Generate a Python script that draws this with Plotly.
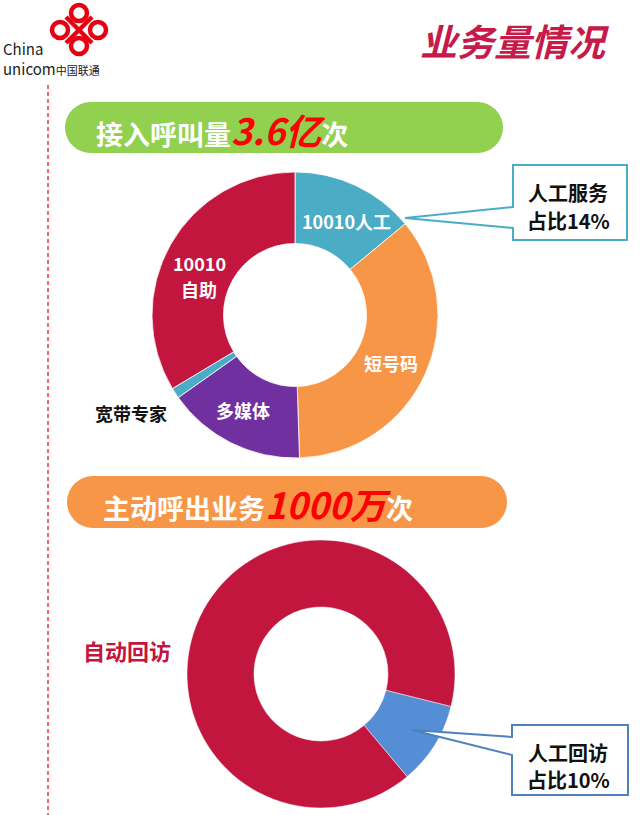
import plotly.graph_objects as go

# ---- data ----
in_labels = ["10010人工", "短号码", "多媒体", "宽带专家", "10010自助"]
in_values = [14.0, 35.5, 15.7, 1.2, 33.6]
in_colors = ["#4BACC6", "#F79646", "#7030A0", "#4BACC6", "#C2163F"]

out_labels = ["人工回访", "自动回访"]
out_values = [10, 90]
out_colors = ["#558ED5", "#C2163F"]

W, H = 640, 815
FONT = "Noto Sans CJK SC"

def py(y):  # pixel y -> paper y
    return 1 - y / H

fig = go.Figure()

# invisible cartesian trace so pixel-based axes exist for shapes
fig.add_trace(go.Scatter(x=[], y=[], showlegend=False, hoverinfo="skip"))

fig.add_trace(go.Pie(
    labels=in_labels, values=in_values, hole=0.5, sort=False,
    direction="clockwise", rotation=0,
    marker=dict(colors=in_colors, line=dict(color="white", width=0.8)),
    textinfo="none", hoverinfo="label+percent",
    domain=dict(x=[152 / W, 438 / W], y=[py(458), py(172)]),
    showlegend=False,
))

fig.add_trace(go.Pie(
    labels=out_labels, values=out_values, hole=0.5, sort=False,
    direction="clockwise", rotation=104,
    marker=dict(colors=out_colors, line=dict(color="white", width=0.5)),
    textinfo="none", hoverinfo="label+percent",
    domain=dict(x=[187 / W, 455 / W], y=[py(808), py(540)]),
    showlegend=False,
))

shapes = []
# dashed red vertical guide line
shapes.append(dict(type="line", xref="x", yref="y", x0=48, x1=48, y0=85, y1=815,
                   line=dict(color="#E8364A", width=1.5, dash="4px,3px")))

def pill(x0, x1, y0, y1, color):
    r = (y1 - y0) / 2
    return [dict(type="rect", xref="x", yref="y", x0=x0 + r, x1=x1 - r, y0=y0, y1=y1,
                 fillcolor=color, line=dict(width=0), layer="below"),
            dict(type="circle", xref="x", yref="y", x0=x0, x1=x0 + 2 * r, y0=y0, y1=y1,
                 fillcolor=color, line=dict(width=0), layer="below"),
            dict(type="circle", xref="x", yref="y", x0=x1 - 2 * r, x1=x1, y0=y0, y1=y1,
                 fillcolor=color, line=dict(width=0), layer="below")]

shapes += pill(65, 503, 102, 153, "#92D050")
shapes += pill(67, 507, 476, 528, "#F79646")

# callouts
shapes.append(dict(type="path", xref="x", yref="y",
                   path="M 513 165 L 627 165 L 627 240 L 513 240 L 513 228 L 405 218 L 513 207 Z",
                   fillcolor="white", line=dict(color="#4BACC6", width=2)))
shapes.append(dict(type="path", xref="x", yref="y",
                   path="M 512 725 L 628 725 L 628 795 L 512 795 L 512 755 L 412 730 L 512 737 Z",
                   fillcolor="white", line=dict(color="#4F81BD", width=2)))

# logo knot (approximation)
LR = "#E60012"
for cx, cy in [(79, 13), (60, 30), (98, 30), (79, 46)]:
    shapes.append(dict(type="circle", xref="x", yref="y", x0=cx - 8, x1=cx + 8, y0=cy - 8, y1=cy + 8,
                       line=dict(color=LR, width=4.5)))
shapes.append(dict(type="line", xref="x", yref="y", x0=66, y0=17, x1=92, y1=43, line=dict(color=LR, width=4.5)))
shapes.append(dict(type="line", xref="x", yref="y", x0=92, y0=17, x1=66, y1=43, line=dict(color=LR, width=4.5)))

ann = []
def A(x, y, text, size, color="white", xanchor="center", **kw):
    ann.append(dict(x=x, y=y, xref="x", yref="y", text=text, showarrow=False,
                    font=dict(family=FONT, size=size, color=color), xanchor=xanchor,
                    yanchor="middle", **kw))

# logo text
A(1, 58, "China<br>unicom<span style='font-size:11px'>中国联通</span>", 15, "#222222",
  xanchor="left", align="left")

# title
A(515, 40, "<b><i>业务量情况</i></b>", 37, "#C51A4A")

# banners
A(94, 129, "<b>接入呼叫量</b><b><i><span style='color:#FF0000;font-size:36px'>3.6亿</span></i></b><b>次</b>", 27, xanchor="left")
A(101, 503, "<b>主动呼出业务</b><b><i><span style='color:#FF0000;font-size:36px'>1000万</span></i></b><b>次</b>", 27, xanchor="left")

# donut 1 labels
A(346, 221, "<b>10010人工</b>", 18)
A(199, 263, "<b>10010</b>", 18)
A(199, 289, "<b>自助</b>", 18)
A(391, 363, "<b>短号码</b>", 18)
A(243, 410, "<b>多媒体</b>", 18)
A(131, 413, "<b>宽带专家</b>", 18, "#111111")

# donut 2 label
A(127, 650, "<b>自动回访</b>", 22, "#C2163F")

# callout texts
A(568, 192, "<b>人工服务</b>", 20, "#111111")
A(568, 220, "<b>占比14%</b>", 20, "#111111")
A(568, 752, "<b>人工回访</b>", 20, "#111111")
A(568, 779, "<b>占比10%</b>", 20, "#111111")

fig.update_layout(
    width=W, height=H, margin=dict(l=0, r=0, t=0, b=0),
    paper_bgcolor="white", plot_bgcolor="white", showlegend=False,
    xaxis=dict(range=[0, W], visible=False, fixedrange=True, domain=[0, 1]),
    yaxis=dict(range=[H, 0], visible=False, fixedrange=True, domain=[0, 1]),
    shapes=shapes, annotations=ann,
    font=dict(family=FONT),
)

fig.write_html("out.html")
